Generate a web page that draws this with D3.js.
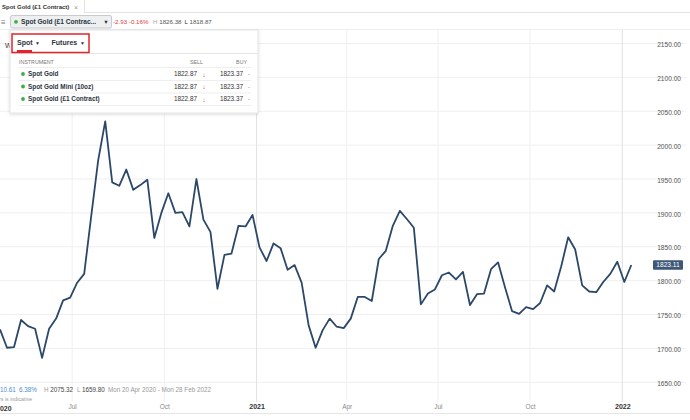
<!DOCTYPE html>
<html><head><meta charset="utf-8">
<script src="https://cdn.jsdelivr.net/npm/d3@7"></script>
<style>
body{margin:0;background:#fff;overflow:hidden}
svg{display:block;font-family:"Liberation Sans",Arial,sans-serif}
</style>
</head><body>
<svg id="c" width="690" height="420"></svg>
<script>
// ---- data ----
const startDate = "2020-04-20"; // weekly closes, Mondays
const prices = [1728,1701,1702,1742,1733,1729,1686,1729,1744,1771,
  1775,1797,1810,1895,1978,2035,1945,1940,1964,1934,
  1941,1949,1863,1900,1929,1900,1901,1880,1950,1890,
  1872,1788,1838,1840,1881,1880,1897,1849,1829,1855,
  1848,1816,1823,1797,1734,1701,1727,1744,1732,1730,
  1744,1776,1776,1770,1832,1844,1881,1903,1891,1878,
  1765,1781,1787,1808,1812,1802,1813,1764,1780,1781,
  1817,1827,1790,1755,1751,1761,1758,1767,1793,1784,
  1821,1864,1846,1793,1784,1783,1798,1810,1828,1798,1823.11];
const lastPrice = 1823.11;
const yTicks = [1650,1700,1750,1800,1850,1900,1950,2000,2050,2100,2150];
const xTickDates = ["2020-07-01","2020-10-01","2021-01-01","2021-04-01","2021-07-01","2021-10-01","2022-01-01"];
const xTickLabels = ["Jul","Oct","2021","Apr","Jul","Oct","2022"];
const instruments = ["Spot Gold","Spot Gold Mini (10oz)","Spot Gold (£1 Contract)"];
const sellPrices = ["1822.87","1822.87","1822.87"];
const buyPrices = ["1823.37","1823.37","1823.37"];

const svg = d3.select("#c");
const x = d3.scaleUtc().domain([new Date("2020-04-20"), new Date("2022-01-01")]).range([0, 622.3]);
const y = d3.scaleLinear().domain([1650, 2150]).range([382.3, 43.5]);
const dates = prices.map((_, i) => d3.utcDay.offset(new Date(startDate), 7 * i));
const tickDates = xTickDates.map(d => new Date(d));
const isYear = l => /^\d{4}$/.test(l);

// ---- grid ----
svg.append("g").selectAll("line").data(yTicks).join("line")
  .attr("x1", 0).attr("x2", 686).attr("y1", d => y(d)).attr("y2", d => y(d))
  .attr("stroke", "#efefef").attr("stroke-width", 1);
svg.append("g").selectAll("line").data(tickDates).join("line")
  .attr("x1", d => x(d)).attr("x2", d => x(d)).attr("y1", 30).attr("y2", 402)
  .attr("stroke", (d, i) => isYear(xTickLabels[i]) ? "#e2e2e2" : "#f0f0f0").attr("stroke-width", 1);
svg.append("line").attr("x1", 0).attr("x2", 690).attr("y1", 413.5).attr("y2", 413.5).attr("stroke", "#e6e6e6");

// ---- line ----
svg.append("path").datum(prices)
  .attr("d", d3.line().x((d, i) => x(dates[i])).y(d => y(d)))
  .attr("fill", "none").attr("stroke", "#2b4868").attr("stroke-width", 1.8)
  .attr("stroke-linejoin", "round");

// ---- right axis ----
const ya = svg.append("g").attr("transform", "translate(683,1)")
  .call(d3.axisLeft(y).tickValues(yTicks).tickFormat(d3.format(".2f")).tickSize(0).tickPadding(2));
ya.select(".domain").remove();
ya.selectAll("text").attr("font-size", 6.6).attr("fill", "#555").attr("font-family", "Liberation Sans, Arial");
// last price tag
svg.append("rect").attr("x", 653).attr("y", y(lastPrice) - 4.8).attr("width", 30).attr("height", 9.6)
  .attr("rx", 1).attr("fill", "#3e5878");
svg.append("text").attr("x", 668).attr("y", y(lastPrice) + 2.3).attr("text-anchor", "middle")
  .attr("font-size", 6.6).attr("fill", "#fff").text(d3.format(".2f")(lastPrice));

// ---- bottom axis ----
const xa = svg.append("g").attr("transform", "translate(0,404)")
  .call(d3.axisBottom(x).tickValues(tickDates).tickFormat((d, i) => xTickLabels[i]).tickSize(0).tickPadding(0));
xa.select(".domain").remove();
xa.selectAll("text").attr("font-family", "Liberation Sans, Arial")
  .attr("font-size", (d, i) => isYear(xTickLabels[i]) ? 7 : 6.5)
  .attr("font-weight", (d, i) => isYear(xTickLabels[i]) ? "bold" : "normal")
  .attr("fill", (d, i) => isYear(xTickLabels[i]) ? "#333" : "#8a8a8a");
svg.append("text").attr("x", -4).attr("y", 410.5).attr("font-size", 7).attr("font-weight", "bold")
  .attr("fill", "#333").text("2020");

// bottom-left info
const info = svg.append("text").attr("y", 391.5).attr("font-size", 6.3);
info.append("tspan").attr("x", 0).attr("fill", "#4a8fd0").text("10.61");
info.append("tspan").attr("x", 19).attr("fill", "#4a8fd0").text("6.38%");
info.append("tspan").attr("x", 44).attr("fill", "#999").text("H ");
info.append("tspan").attr("fill", "#444").text("2075.32");
info.append("tspan").attr("x", 77).attr("fill", "#999").text("L ");
info.append("tspan").attr("fill", "#444").text("1659.80");
info.append("tspan").attr("x", 108).attr("fill", "#999").text("Mon 20 Apr 2020 - Mon 28 Feb 2022");
svg.append("text").attr("x", -1).attr("y", 401).attr("font-size", 5.3).attr("fill", "#999").text("rs is indicative");

// ---- top tab bar ----
svg.append("line").attr("x1", 84).attr("x2", 690).attr("y1", 12.5).attr("y2", 12.5).attr("stroke", "#e3e3e3");
svg.append("line").attr("x1", 84.5).attr("x2", 84.5).attr("y1", 0).attr("y2", 12.5).attr("stroke", "#e3e3e3");
svg.append("text").attr("x", 2).attr("y", 9).attr("font-size", 6).attr("font-weight", "bold").attr("fill", "#333")
  .text("Spot Gold (£1 Contract)");
svg.append("text").attr("x", 74).attr("y", 9.5).attr("font-size", 7).attr("fill", "#999").text("×");

// toolbar
svg.append("text").attr("x", 1).attr("y", 24.5).attr("font-size", 8).attr("fill", "#777").text("≡");
svg.append("rect").attr("x", 10.5).attr("y", 15.5).attr("width", 101).attr("height", 12.5).attr("rx", 1.5)
  .attr("fill", "#edeff1").attr("stroke", "#c8ccd0");
svg.append("circle").attr("cx", 16).attr("cy", 21.8).attr("r", 1.9).attr("fill", "#3fae49");
svg.append("text").attr("x", 21).attr("y", 24.2).attr("font-size", 6.6).attr("font-weight", "bold").attr("fill", "#2b3440")
  .text("Spot Gold (£1 Contrac...");
svg.append("text").attr("x", 106).attr("y", 24).attr("font-size", 5.5).attr("text-anchor", "middle").attr("fill", "#333").text("▼");
const tb = svg.append("text").attr("y", 24).attr("font-size", 6.2);
tb.append("tspan").attr("x", 113).attr("fill", "#e0403a").text("-2.93  -0.16%");
tb.append("tspan").attr("x", 153).attr("fill", "#aaa").text("H ");
tb.append("tspan").attr("fill", "#555").text("1826.38");
tb.append("tspan").attr("x", 184.5).attr("fill", "#333").text("L ");
tb.append("tspan").attr("fill", "#555").text("1818.87");
svg.append("line").attr("x1", 0).attr("x2", 690).attr("y1", 29.5).attr("y2", 29.5).attr("stroke", "#eeeeee");

// hidden chart title letter
svg.append("text").attr("x", 5).attr("y", 48).attr("font-size", 7).attr("fill", "#333").text("W");

// ---- instrument panel ----
const defs = svg.append("defs");
const f = defs.append("filter").attr("id", "sh").attr("x", "-10%").attr("y", "-10%").attr("width", "120%").attr("height", "130%");
f.append("feDropShadow").attr("dx", 0).attr("dy", 1).attr("stdDeviation", 1.5).attr("flood-color", "#000").attr("flood-opacity", 0.15);
svg.append("rect").attr("x", 10).attr("y", 30).attr("width", 248).attr("height", 83)
  .attr("fill", "#fff").attr("stroke", "#e4e4e4").attr("filter", "url(#sh)");
svg.append("line").attr("x1", 10).attr("x2", 258).attr("y1", 53.5).attr("y2", 53.5).attr("stroke", "#e6e6e6");
svg.append("text").attr("x", 17).attr("y", 45).attr("font-size", 7).attr("font-weight", "bold").attr("fill", "#2b3440").text("Spot");
svg.append("text").attr("x", 37.5).attr("y", 44.5).attr("font-size", 5).attr("text-anchor", "middle").attr("fill", "#333").text("▼");
svg.append("text").attr("x", 51.5).attr("y", 45).attr("font-size", 7).attr("font-weight", "bold").attr("fill", "#2b3440").text("Futures");
svg.append("text").attr("x", 82.5).attr("y", 44.5).attr("font-size", 5).attr("text-anchor", "middle").attr("fill", "#333").text("▼");
svg.append("rect").attr("x", 17).attr("y", 50).attr("width", 15).attr("height", 2.3).attr("fill", "#e0252b");
svg.append("rect").attr("x", 12).attr("y", 34).attr("width", 77).attr("height", 18.5)
  .attr("fill", "none").attr("stroke", "#e0252b").attr("stroke-width", 1.5);

svg.append("text").attr("x", 19).attr("y", 63.5).attr("font-size", 5.3).attr("fill", "#777").text("INSTRUMENT");
svg.append("text").attr("x", 203).attr("y", 63.5).attr("font-size", 5.3).attr("text-anchor", "end").attr("fill", "#777").text("SELL");
svg.append("text").attr("x", 247).attr("y", 63.5).attr("font-size", 5.3).attr("text-anchor", "end").attr("fill", "#777").text("BUY");
svg.append("line").attr("x1", 19).attr("x2", 251).attr("y1", 67.5).attr("y2", 67.5).attr("stroke", "#eeeeee");

const rowY = d3.scalePoint().domain(instruments).range([74, 99]);
const rows = svg.append("g").selectAll("g").data(instruments).join("g")
  .attr("transform", d => `translate(0,${rowY(d)})`);
rows.append("circle").attr("cx", 23).attr("cy", 0).attr("r", 1.9).attr("fill", "#3fae49");
rows.append("text").attr("x", 28).attr("y", 2.3).attr("font-size", 6.4).attr("font-weight", "bold").attr("fill", "#2b3440").text(d => d);
rows.append("text").attr("x", 197).attr("y", 2.3).attr("font-size", 6.4).attr("text-anchor", "end").attr("fill", "#333").text((d, i) => sellPrices[i]);
rows.append("text").attr("x", 204).attr("y", 2.5).attr("font-size", 6.4).attr("text-anchor", "middle").attr("fill", "#e0403a").text("↓");
rows.append("text").attr("x", 243).attr("y", 2.3).attr("font-size", 6.4).attr("text-anchor", "end").attr("fill", "#333").text((d, i) => buyPrices[i]);
rows.append("text").attr("x", 249).attr("y", 2.3).attr("font-size", 6).attr("text-anchor", "middle").attr("fill", "#e0403a").text("-");
rows.append("line").attr("x1", 19).attr("x2", 251).attr("y1", 6.5).attr("y2", 6.5).attr("stroke", "#eeeeee");
</script>
</body></html>
